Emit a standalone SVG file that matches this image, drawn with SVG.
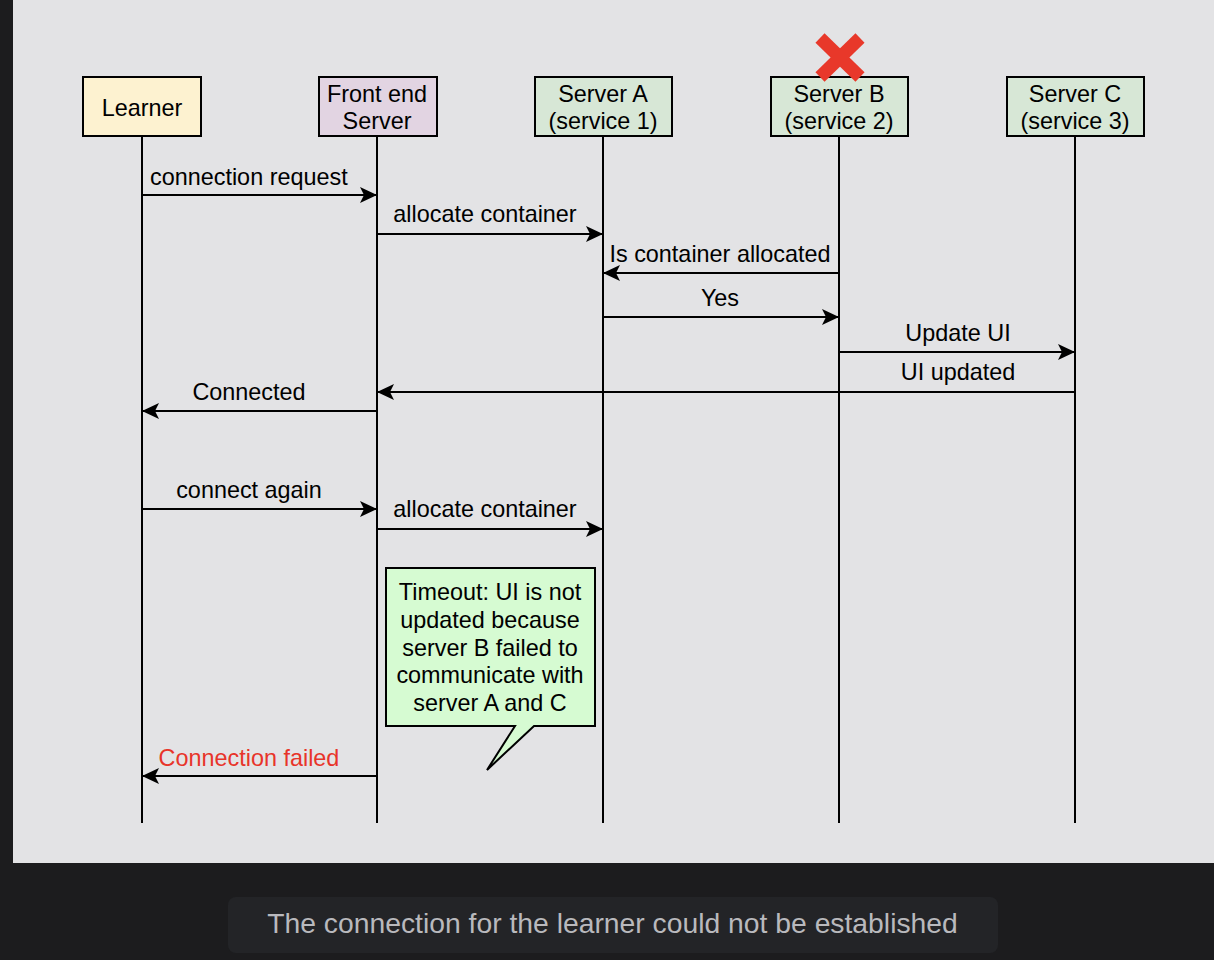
<svg xmlns="http://www.w3.org/2000/svg" width="1214" height="960" viewBox="0 0 1214 960">
<style>
  text { font-family: "Liberation Sans", Arial, Helvetica, sans-serif; font-size: 23.4px; fill: #000; }
  .box { stroke: #000; stroke-width: 2; }
  .life { stroke: #000; stroke-width: 2; fill: none; }
  .msg { stroke: #000; stroke-width: 2; fill: none; marker-end: url(#ah); }
  .c { text-anchor: middle; }
</style>
<defs>
  <marker id="ah" markerUnits="userSpaceOnUse" markerWidth="18" markerHeight="18" viewBox="0 0 18 18" refX="17" refY="9" orient="auto">
    <path d="M0,1 L17,9 L0,17 L4,9 Z" fill="#000"/>
  </marker>
</defs>
<rect x="0" y="0" width="1214" height="960" fill="#1c1c1e"/>
<rect x="13" y="0" width="1201" height="863" fill="#e3e3e5"/>

<g id="connectors">
  <line class="life" x1="142" y1="136" x2="142" y2="823"/>
  <line class="life" x1="377" y1="136" x2="377" y2="823"/>
  <line class="life" x1="603" y1="136" x2="603" y2="823"/>
  <line class="life" x1="839" y1="136" x2="839" y2="823"/>
  <line class="life" x1="1075" y1="136" x2="1075" y2="823"/>

  <line class="msg" x1="142" y1="195" x2="377" y2="195"/>
  <text x="150" y="185">connection request</text>
  <line class="msg" x1="377" y1="234" x2="603" y2="234"/>
  <text class="c" x="485" y="222">allocate container</text>
  <line class="msg" x1="839" y1="273" x2="603" y2="273"/>
  <text class="c" x="720" y="262">Is container allocated</text>
  <line class="msg" x1="603" y1="317" x2="839" y2="317"/>
  <text class="c" x="720" y="306">Yes</text>
  <line class="msg" x1="839" y1="352" x2="1075" y2="352"/>
  <text class="c" x="958" y="341">Update UI</text>
  <line class="msg" x1="1075" y1="392" x2="377" y2="392"/>
  <text class="c" x="958" y="380">UI updated</text>
  <line class="msg" x1="377" y1="411" x2="142" y2="411"/>
  <text class="c" x="249" y="400">Connected</text>
  <line class="msg" x1="142" y1="509" x2="377" y2="509"/>
  <text class="c" x="249" y="498">connect again</text>
  <line class="msg" x1="377" y1="529" x2="603" y2="529"/>
  <text class="c" x="485" y="517">allocate container</text>
  <line class="msg" x1="377" y1="776" x2="142" y2="776"/>
  <text class="c" x="249" y="766" style="fill:#e8342a">Connection failed</text>
</g>

<g id="learner">
  <rect class="box" x="83" y="77" width="118" height="59" fill="#fdf2d0"/>
  <text class="c" x="142" y="116">Learner</text>
</g>
<g id="frontend">
  <rect class="box" x="319" y="77" width="118" height="59" fill="#e2d4e2"/>
  <text class="c" x="377" y="102">Front end</text>
  <text class="c" x="377" y="129">Server</text>
</g>
<g id="serverA">
  <rect class="box" x="535" y="77" width="137" height="59" fill="#d7e7d6"/>
  <text class="c" x="603" y="102">Server A</text>
  <text class="c" x="603" y="129">(service 1)</text>
</g>
<g id="serverB">
  <rect class="box" x="771" y="77" width="137" height="59" fill="#d7e7d6"/>
  <text class="c" x="839" y="102">Server B</text>
  <text class="c" x="839" y="129">(service 2)</text>
  <g id="failmark" stroke="#e8382a" stroke-width="13" stroke-linecap="butt">
    <line x1="820" y1="38" x2="860" y2="77"/>
    <line x1="860" y1="38" x2="820" y2="77"/>
  </g>
</g>
<g id="serverC">
  <rect class="box" x="1007" y="77" width="137" height="59" fill="#d7e7d6"/>
  <text class="c" x="1075" y="102">Server C</text>
  <text class="c" x="1075" y="129">(service 3)</text>
</g>

<g id="callout">
  <path d="M386,568 L595,568 L595,726 L534,726 L487,770 L515,726 L386,726 Z" fill="#d6fbd2" stroke="#000" stroke-width="2" stroke-linejoin="miter"/>
  <text class="c" x="490" y="600">Timeout: UI is not</text>
  <text class="c" x="490" y="628">updated because</text>
  <text class="c" x="490" y="656">server B failed to</text>
  <text class="c" x="490" y="683">communicate with</text>
  <text class="c" x="490" y="711">server A and C</text>
</g>

<g id="caption">
  <rect x="228" y="897" width="770" height="56" rx="8" fill="#232427"/>
  <text class="c" x="612.5" y="933" style="font-size:28.3px; fill:#b9b9bd">The connection for the learner could not be established</text>
</g>
</svg>
